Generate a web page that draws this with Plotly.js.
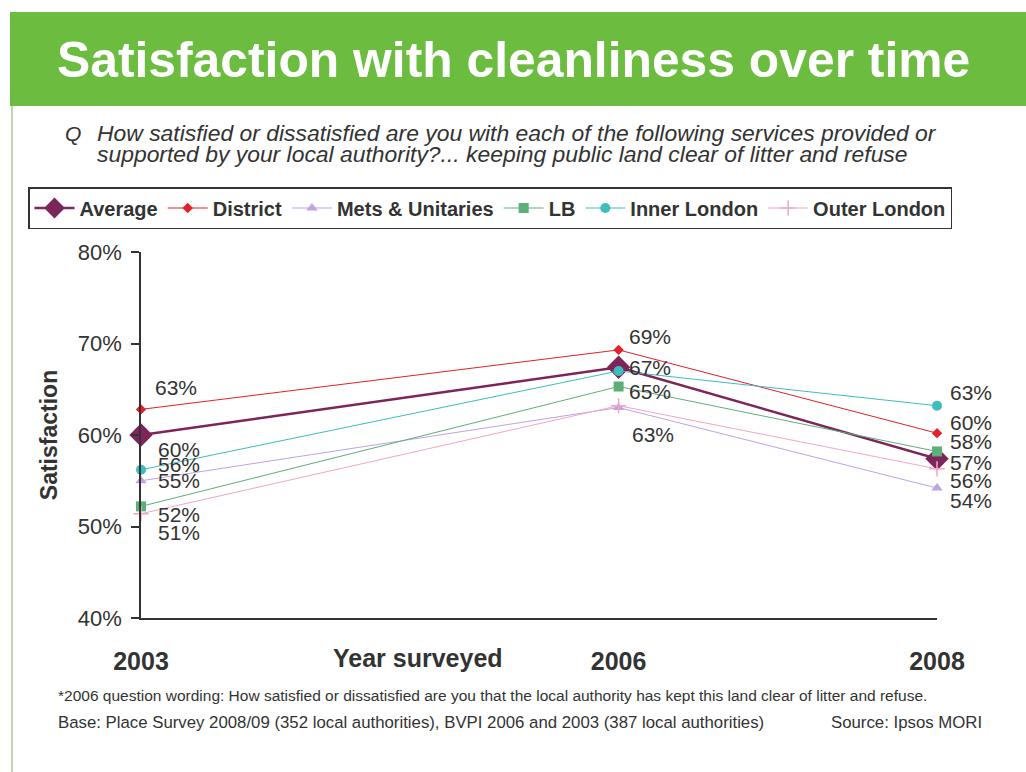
<!DOCTYPE html>
<html>
<head>
<meta charset="utf-8">
<script src="https://cdn.plot.ly/plotly-3.0.1.min.js"></script>
<style>html,body{margin:0;padding:0;background:#fff;}#chart{width:1026px;height:772px;}</style>
</head>
<body>
<div id="chart"></div>
<script>
// ---- data ----
const years = [2003, 2006, 2008];
const yearLabels = ['2003', '2006', '2008'];
const seriesNames = ['Average', 'District', 'Mets & Unitaries', 'LB', 'Inner London', 'Outer London'];
const average = [60.0, 67.4, 57.4];
const district = [62.8, 69.3, 60.2];
const metsUnitaries = [55.0, 63.0, 54.2];
const lb = [52.2, 65.3, 58.2];
const innerLondon = [56.2, 67.0, 63.2];
const outerLondon = [51.4, 63.2, 56.3];
const yTickValues = [40, 50, 60, 70, 80];
const yTickLabels = ['40%', '50%', '60%', '70%', '80%'];

const titleText = 'Satisfaction with cleanliness over time';
const questionLine1 = 'How satisfied or dissatisfied are you with each of the following services provided or';
const questionLine2 = 'supported by your local authority?... keeping public land clear of litter and refuse';
const footnote1 = '*2006 question wording: How satisfied or dissatisfied are you that the local authority has kept this land clear of litter and refuse.';
const footnote2 = 'Base: Place Survey 2008/09 (352 local authorities), BVPI 2006 and 2003 (387 local authorities)';
const sourceText = 'Source: Ipsos MORI';

// ---- styling ----
const W = 1026, H = 772, L = 141, R = 937, T = 252, B = 618;
const px2x = p => (p - L) / (R - L);
const py2y = p => (B - p) / (B - T);
const FONT = 'Liberation Sans, Arial, sans-serif';
const TXT = '#333333';

const seriesValues = [average, district, metsUnitaries, lb, innerLondon, outerLondon];
const styles = [
  {color: '#7D2458', width: 2.5, symbol: 'diamond', size: 18},
  {color: '#E3202B', width: 1, symbol: 'diamond', size: 8},
  {color: '#BFA3E3', width: 1, symbol: 'triangle-up', size: 10},
  {color: '#5DAF78', width: 1, symbol: 'square', size: 10},
  {color: '#3DBDBE', width: 1, symbol: 'circle', size: 10},
  {color: '#F2A6C4', width: 1, symbol: 'cross-thin', size: 11}
];
// label offsets [xshift, yshift] per point, null = no label
const labelOffsets = [
  [[17, -14], [10, 0], [13, -4]],
  [[14, 22], [10, 13], [13, 11]],
  [[17, 0], [13, -27], [13, -12]],
  [[17, -8], [10, -5], [13, 10]],
  [[17, 5], null, [13, 13]],
  [[17, -19], null, [13, -12]]
];

const traces = seriesNames.map((name, i) => ({
  type: 'scatter',
  mode: 'lines+markers',
  name: name,
  x: years,
  y: seriesValues[i],
  cliponaxis: false,
  line: {color: styles[i].color, width: styles[i].width},
  marker: {
    color: styles[i].color,
    symbol: styles[i].symbol,
    size: styles[i].size,
    line: {color: styles[i].color, width: styles[i].symbol === 'cross-thin' ? 1.5 : 0}
  },
  hoverinfo: 'x+y+name'
}));

const annotations = [];
seriesValues.forEach((vals, i) => {
  vals.forEach((v, j) => {
    const off = labelOffsets[i][j];
    if (!off) return;
    annotations.push({
      x: years[j], y: v, xref: 'x', yref: 'y',
      text: Math.round(v) + '%',
      showarrow: false, xanchor: 'left', yanchor: 'middle',
      xshift: off[0] - 2, yshift: off[1],
      font: {family: FONT, size: 21, color: TXT}
    });
  });
});

annotations.push(
  {xref: 'paper', yref: 'paper', x: px2x(63), y: py2y(133), text: 'Q', showarrow: false,
   xanchor: 'left', yanchor: 'middle', font: {family: FONT, size: 21, color: TXT, style: 'italic'}},
  {xref: 'paper', yref: 'paper', x: px2x(95), y: py2y(133), text: questionLine1, showarrow: false,
   xanchor: 'left', yanchor: 'middle', align: 'left',
   font: {family: FONT, size: 22.9, color: TXT, style: 'italic'}},
  {xref: 'paper', yref: 'paper', x: px2x(95), y: py2y(154), text: questionLine2, showarrow: false,
   xanchor: 'left', yanchor: 'middle', align: 'left',
   font: {family: FONT, size: 22.9, color: TXT, style: 'italic'}},
  {xref: 'paper', yref: 'paper', x: px2x(418), y: py2y(658), text: 'Year surveyed', showarrow: false,
   xanchor: 'center', yanchor: 'middle', font: {family: FONT, size: 25, color: TXT, weight: 'bold'}},
  {xref: 'paper', yref: 'paper', x: px2x(56), y: py2y(695), text: footnote1, showarrow: false,
   xanchor: 'left', yanchor: 'middle', font: {family: FONT, size: 15.5, color: TXT}},
  {xref: 'paper', yref: 'paper', x: px2x(56), y: py2y(722), text: footnote2, showarrow: false,
   xanchor: 'left', yanchor: 'middle', font: {family: FONT, size: 16.8, color: TXT}},
  {xref: 'paper', yref: 'paper', x: px2x(984), y: py2y(722), text: sourceText, showarrow: false,
   xanchor: 'right', yanchor: 'middle', font: {family: FONT, size: 16.8, color: TXT}}
);

const shapes = [
  {type: 'rect', xref: 'paper', yref: 'paper', layer: 'below',
   x0: px2x(10), x1: px2x(1030), y0: py2y(106), y1: py2y(12),
   fillcolor: '#6CBC3F', line: {width: 0}},
  {type: 'line', xref: 'paper', yref: 'paper', layer: 'below',
   x0: px2x(12), x1: px2x(12), y0: py2y(106), y1: py2y(775),
   line: {color: '#B7DBA3', width: 2}}
];

const layout = {
  width: W, height: H,
  margin: {l: L, r: W - R, t: T, b: H - B, pad: 0},
  paper_bgcolor: '#ffffff', plot_bgcolor: '#ffffff',
  font: {family: FONT, color: TXT},
  title: {
    text: titleText, xref: 'container', yref: 'container',
    x: 57 / W, xanchor: 'left', y: 1 - 60 / H, yanchor: 'middle',
    font: {family: FONT, size: 49.8, color: '#ffffff', weight: 'bold'}
  },
  showlegend: true,
  legend: {
    orientation: 'h', x: px2x(28), xanchor: 'left', y: py2y(187), yanchor: 'top',
    bordercolor: '#333333', borderwidth: 1.5, bgcolor: '#ffffff',
    font: {family: FONT, size: 20, color: TXT, weight: 'bold'},
    itemwidth: 40, traceorder: 'normal'
  },
  xaxis: {
    range: [2003, 2008], tickmode: 'array', tickvals: years, ticktext: yearLabels,
    showline: true, linecolor: '#333333', linewidth: 1.5,
    ticks: '', showgrid: false, zeroline: false,
    ticklabelstandoff: 20,
    tickfont: {family: FONT, size: 25, color: TXT, weight: 'bold'}
  },
  yaxis: {
    range: [40, 80], tickmode: 'array', tickvals: yTickValues, ticktext: yTickLabels,
    showline: true, linecolor: '#333333', linewidth: 1.5,
    ticks: 'outside', ticklen: 8, tickcolor: '#333333', tickwidth: 1.5,
    ticklabelstandoff: 5,
    showgrid: false, zeroline: false,
    tickfont: {family: FONT, size: 22, color: TXT},
    title: {text: 'Satisfaction', standoff: 14,
            font: {family: FONT, size: 23, color: TXT, weight: 'bold'}}
  },
  annotations: annotations,
  shapes: shapes
};

Plotly.newPlot('chart', traces, layout, {displayModeBar: false, responsive: false});
</script>
</body>
</html>
